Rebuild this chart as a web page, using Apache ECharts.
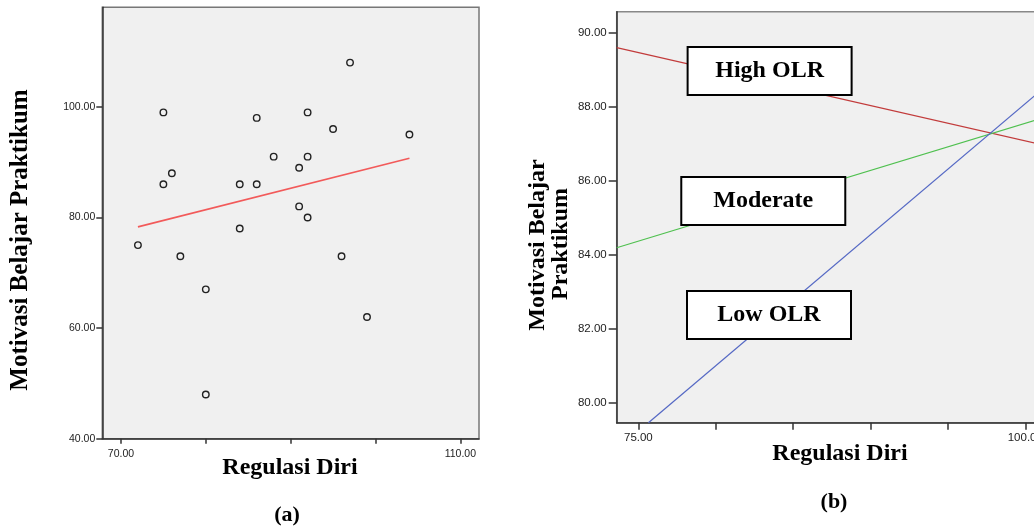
<!DOCTYPE html>
<html>
<head>
<meta charset="utf-8">
<script src="https://cdn.jsdelivr.net/npm/echarts@6/dist/echarts.min.js"></script>
<style>
html,body{margin:0;padding:0;background:#fff;}
#chart{width:1034px;height:526px;}
</style>
</head>
<body>
<div id="chart"></div>
<script>
// ---- Panel (a): scatter of Regulasi Diri vs Motivasi Belajar Praktikum ----
const scatterX = [72, 75, 75, 76, 77, 80, 80, 84, 84, 86, 86, 88, 91, 91, 92, 92, 92, 95, 96, 97, 99, 104];
const scatterY = [75, 99, 86, 88, 73, 67, 48, 86, 78, 98, 86, 91, 89, 82, 99, 91, 80, 96, 73, 108, 62, 95];
const fitX = [72, 104];
const fitY = [78.3, 90.7];
const aXTicks = [70, 80, 90, 100, 110];
const aXLabels = [70, 110];
const aYTicks = [40, 60, 80, 100];

// ---- Panel (b): simple slopes ----
const highX = [73.6, 102.5];
const highY = [89.59, 86.83];
const modX = [73.6, 102.5];
const modY = [84.18, 87.86];
const lowX = [75.65, 102.5];
const lowY = [79.45, 88.96];
const bXTicks = [75, 80, 85, 90, 95, 100];
const bXLabels = [75, 100];
const bYTicks = [80, 82, 84, 86, 88, 90];
const groupNames = ['High OLR', 'Moderate', 'Low OLR'];
const groupLabelX = [83.48, 83.07, 83.44];
const groupLabelY = [88.96, 85.44, 82.36];

const pairs = (xs, ys) => xs.map((x, i) => [x, ys[i]]);
const serif = '"Liberation Serif", "Times New Roman", serif';
const narrow = '"Liberation Sans Narrow", "Arial Narrow", "Liberation Sans", sans-serif';
const sans = '"Liberation Sans", Arial, sans-serif';
const fmt = v => Number(v).toFixed(2);

const chart = echarts.init(document.getElementById('chart'), null, {renderer: 'canvas'});

const axisLineStyle = {show: true, lineStyle: {color: '#333', width: 1.5}};

const option = {
  animation: false,
  backgroundColor: '#fff',
  grid: [
    {left: 102.3, top: 7.3, width: 376.7, height: 431.4, show: true, containLabel: false,
     outerBoundsMode: 'none',
     backgroundColor: '#f0f0f0', borderColor: '#777', borderWidth: 1.5},
    {left: 616.7, top: 11.7, width: 447, height: 411, show: true, containLabel: false,
     outerBoundsMode: 'none',
     backgroundColor: '#f0f0f0', borderColor: '#888', borderWidth: 1.5}
  ],
  xAxis: [
    {gridIndex: 0, type: 'value', min: 67.8, max: 112.2,
     axisLine: axisLineStyle, splitLine: {show: false},
     axisTick: {show: true, customValues: aXTicks, length: 5, lineStyle: {color: '#333', width: 1.5}},
     axisLabel: {customValues: aXLabels, formatter: fmt, margin: 10, color: '#222',
                 fontSize: 10.5, fontFamily: narrow}},
    {gridIndex: 1, type: 'value', min: 73.6, max: 102.48,
     axisLine: axisLineStyle, splitLine: {show: false},
     axisTick: {show: true, customValues: bXTicks, length: 7, lineStyle: {color: '#333', width: 1.5}},
     axisLabel: {customValues: bXLabels, formatter: fmt, margin: 9, color: '#222',
                 fontSize: 11.5, fontFamily: sans}}
  ],
  yAxis: [
    {gridIndex: 0, type: 'value', min: 40, max: 118,
     axisLine: axisLineStyle, splitLine: {show: false},
     axisTick: {show: true, customValues: aYTicks, length: 6, lineStyle: {color: '#333', width: 1.5}},
     axisLabel: {customValues: aYTicks, formatter: fmt, margin: 7, color: '#222',
                 fontSize: 10.5, fontFamily: narrow}},
    {gridIndex: 1, type: 'value', min: 79.45, max: 90.56,
     axisLine: axisLineStyle, splitLine: {show: false},
     axisTick: {show: true, customValues: bYTicks, length: 8, lineStyle: {color: '#333', width: 1.5}},
     axisLabel: {customValues: bYTicks, formatter: fmt, margin: 10, color: '#222',
                 fontSize: 11.5, fontFamily: sans}}
  ],
  series: [
    {type: 'scatter', xAxisIndex: 0, yAxisIndex: 0, data: pairs(scatterX, scatterY),
     symbol: 'circle', symbolSize: 6.5, silent: true,
     itemStyle: {color: 'rgba(0,0,0,0)', borderColor: '#222', borderWidth: 1.4, opacity: 1}},
    {type: 'line', xAxisIndex: 0, yAxisIndex: 0, data: pairs(fitX, fitY),
     symbol: 'none', silent: true, lineStyle: {color: '#f25a5a', width: 1.6}},
    {type: 'line', xAxisIndex: 1, yAxisIndex: 1, data: pairs(highX, highY), clip: true,
     symbol: 'none', silent: true, lineStyle: {color: '#c23b3b', width: 1.2}},
    {type: 'line', xAxisIndex: 1, yAxisIndex: 1, data: pairs(modX, modY), clip: true,
     symbol: 'none', silent: true, lineStyle: {color: '#4fc04f', width: 1.2}},
    {type: 'line', xAxisIndex: 1, yAxisIndex: 1, data: pairs(lowX, lowY), clip: true,
     symbol: 'none', silent: true, lineStyle: {color: '#5468c4', width: 1.2}},
    {type: 'scatter', xAxisIndex: 1, yAxisIndex: 1, z: 20, silent: true,
     symbolSize: 0, itemStyle: {opacity: 1},
     data: groupNames.map((n, i) => ({name: n, value: [groupLabelX[i], groupLabelY[i]]})),
     label: {show: true, position: 'inside', formatter: p => p.name,
             backgroundColor: '#fff', borderColor: '#000', borderWidth: 2,
             textBorderWidth: 0, textShadowBlur: 0, opacity: 1,
             width: 162, height: 46, lineHeight: 46, align: 'center', verticalAlign: 'middle',
             fontFamily: serif, fontWeight: 'bold', fontSize: 24, color: '#000'}}
  ],
  graphic: [
    {type: 'text', x: 21, y: 240, rotation: Math.PI / 2,
     style: {text: 'Motivasi Belajar Praktikum', font: 'bold 25px ' + serif, fill: '#000',
             align: 'center', verticalAlign: 'middle'}},
    {type: 'text', x: 290, y: 468,
     style: {text: 'Regulasi Diri', font: 'bold 24px ' + serif, fill: '#000',
             align: 'center', verticalAlign: 'middle'}},
    {type: 'text', x: 287, y: 515,
     style: {text: '(a)', font: 'bold 22px ' + serif, fill: '#000',
             align: 'center', verticalAlign: 'middle'}},
    {type: 'text', x: 538, y: 245, rotation: Math.PI / 2,
     style: {text: 'Motivasi Belajar', font: 'bold 24px ' + serif, fill: '#000',
             align: 'center', verticalAlign: 'middle'}},
    {type: 'text', x: 561, y: 244, rotation: Math.PI / 2,
     style: {text: 'Praktikum', font: 'bold 24px ' + serif, fill: '#000',
             align: 'center', verticalAlign: 'middle'}},
    {type: 'text', x: 840, y: 454,
     style: {text: 'Regulasi Diri', font: 'bold 24px ' + serif, fill: '#000',
             align: 'center', verticalAlign: 'middle'}},
    {type: 'text', x: 834, y: 502,
     style: {text: '(b)', font: 'bold 22px ' + serif, fill: '#000',
             align: 'center', verticalAlign: 'middle'}}
  ]
};
chart.setOption(option);
</script>
</body>
</html>
